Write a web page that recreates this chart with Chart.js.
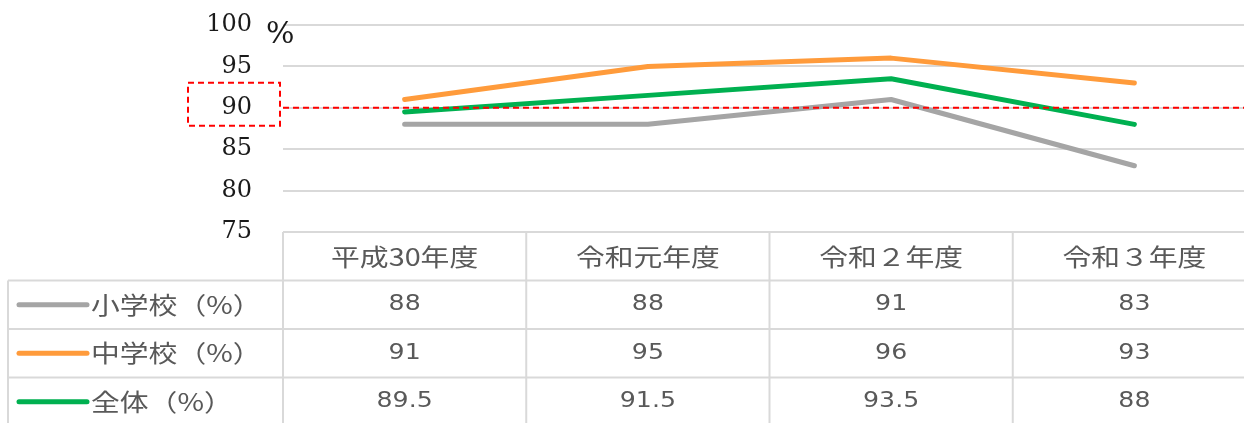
<!DOCTYPE html>
<html>
<head>
<meta charset="utf-8">
<script src="https://cdn.jsdelivr.net/npm/chart.js@4"></script>
<style>
  html, body { margin: 0; padding: 0; overflow: hidden; background: #fff; }
  #wrap { position: relative; width: 1256px; height: 423px; }
</style>
</head>
<body>
<div id="wrap"><canvas id="rate-chart"></canvas></div>
<script>
// データ
const years = ['平成30年度', '令和元年度', '令和２年度', '令和３年度'];
const seriesNames = ['小学校（%）', '中学校（%）', '全体（%）'];
const elementary = [88, 88, 91, 83];
const juniorHigh = [91, 95, 96, 93];
const overall = [89.5, 91.5, 93.5, 88];
const yTicks = [75, 80, 85, 90, 95, 100];
const targetLine = 90;

const colors = ['#A5A5A5', '#FF9B3B', '#00B050'];
const gridColor = '#D9D9D9';

// 表の行の高さ
const rowH = 48.5;

// 目標線・データ表・単位を描くプラグイン
const tablePlugin = {
    id: 'dataTable',
    afterDraw(chart) {
        const ctx = chart.ctx;
        const area = chart.chartArea;
        const xs = chart.scales.x;
        const ys = chart.scales.y;
        const colW = (area.right - area.left) / years.length;

        // 単位
        ctx.save();
        ctx.fillStyle = '#1a1a1a';
        ctx.font = '30px "DejaVu Serif"';
        ctx.textBaseline = 'middle';
        ctx.fillText('%', 266, 35);
        ctx.restore();

        // 90% の赤い点線と枠
        const y90 = ys.getPixelForValue(targetLine);
        ctx.save();
        ctx.strokeStyle = '#FF0000';
        ctx.lineWidth = 2;
        ctx.setLineDash([6, 4]);
        ctx.beginPath();
        ctx.moveTo(area.left, y90);
        ctx.lineTo(area.right, y90);
        ctx.stroke();
        ctx.strokeRect(188, y90 - 25, 92, 43);
        ctx.restore();

        // 表の罫線
        const top = area.bottom;
        ctx.save();
        ctx.strokeStyle = gridColor;
        ctx.lineWidth = 2;
        ctx.beginPath();
        for (let r = 1; r <= seriesNames.length + 1; r++) {
            const y = top + rowH * r;
            ctx.moveTo(8, y);
            ctx.lineTo(area.right, y);
        }
        ctx.moveTo(8, top + rowH);
        ctx.lineTo(8, top + rowH * 5);
        for (let c = 0; c <= years.length; c++) {
            const x = area.left + colW * c;
            ctx.moveTo(x, top);
            ctx.lineTo(x, top + rowH * 5);
        }
        ctx.stroke();
        ctx.restore();

        // 横に少し伸ばした文字
        const drawText = (text, x, y, align, font) => {
            ctx.save();
            ctx.translate(x, y);
            ctx.scale(1.2, 1);
            ctx.font = font;
            ctx.textAlign = align;
            ctx.textBaseline = 'middle';
            ctx.fillStyle = '#595959';
            ctx.fillText(text, 0, 0);
            ctx.restore();
        };
        const cjkFont = '24px "Noto Sans CJK JP"';
        const numFont = '21px "DejaVu Sans"';

        years.forEach((label, i) => {
            drawText(label, xs.getPixelForValue(i), top + rowH / 2 + 1, 'center', cjkFont);
        });

        const allData = [elementary, juniorHigh, overall];
        allData.forEach((values, r) => {
            const cy = top + rowH * (r + 1) + rowH / 2;
            // 凡例の線
            ctx.save();
            ctx.strokeStyle = colors[r];
            ctx.lineWidth = 5;
            ctx.lineCap = 'round';
            ctx.beginPath();
            ctx.moveTo(19, cy);
            ctx.lineTo(87, cy);
            ctx.stroke();
            ctx.restore();
            drawText(seriesNames[r], 91, cy, 'left', cjkFont);
            values.forEach((v, i) => {
                drawText(String(v), xs.getPixelForValue(i), cy, 'center', numFont);
            });
        });
    }
};

const ctx = document.getElementById('rate-chart').getContext('2d');
new Chart(ctx, {
    type: 'line',
    data: {
        labels: years,
        datasets: [
            { label: seriesNames[0], data: elementary, borderColor: colors[0] },
            { label: seriesNames[1], data: juniorHigh, borderColor: colors[1] },
            { label: seriesNames[2], data: overall, borderColor: colors[2] },
        ],
    },
    options: {
        responsive: true,
        maintainAspectRatio: false,
        animation: false,
        layout: { padding: { top: 25, right: 0, bottom: 191, left: 0 } },
        elements: {
            line: { borderWidth: 5, borderCapStyle: 'round', borderJoinStyle: 'round', tension: 0 },
            point: { radius: 0, hoverRadius: 0 },
        },
        plugins: {
            legend: { display: false },
            tooltip: { enabled: false },
        },
        scales: {
            x: {
                display: false,
                offset: true,
            },
            y: {
                min: 75,
                max: 100,
                afterFit(scale) { scale.width = 283; },
                afterBuildTicks(scale) { scale.ticks = yTicks.map(v => ({ value: v })); },
                grid: {
                    color: gridColor,
                    lineWidth: 2,
                    drawTicks: true,
                    tickLength: 31,
                    tickColor: 'rgba(0,0,0,0)',
                },
                border: { display: false },
                ticks: {
                    padding: 0,
                    color: '#1a1a1a',
                    font: { family: 'DejaVu Serif', size: 24 },
                },
            },
        },
    },
    plugins: [tablePlugin],
});
</script>
</body>
</html>
